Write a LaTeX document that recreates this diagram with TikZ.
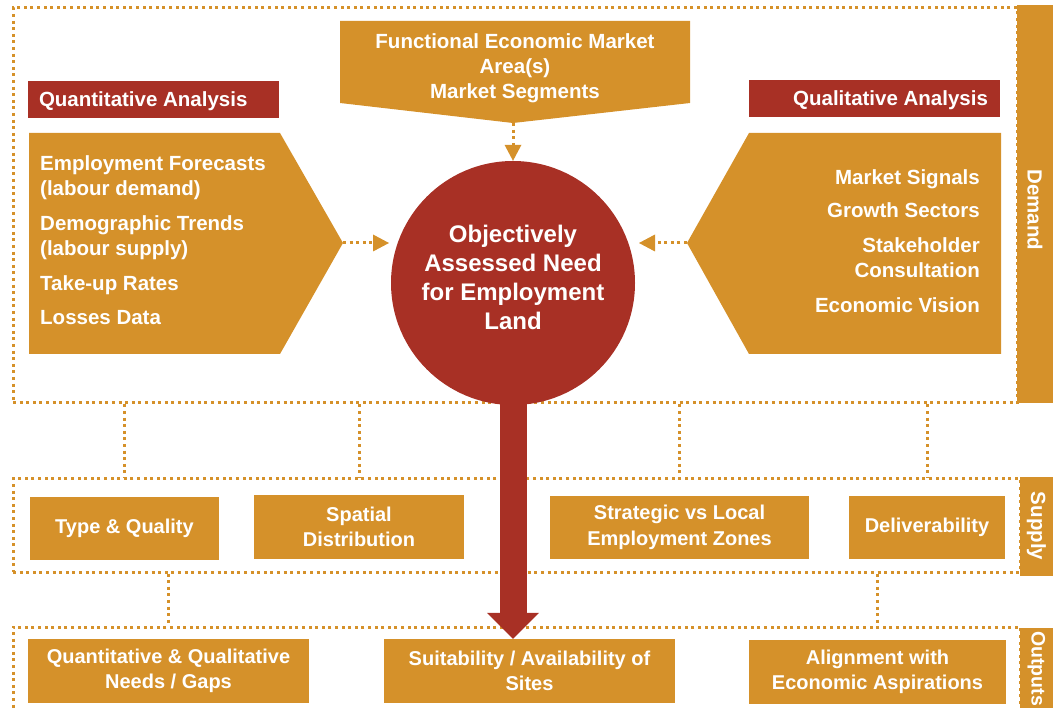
\documentclass[tikz,border=0pt]{standalone}
\usepackage{fontspec}
\setmainfont{Liberation Sans}
\usetikzlibrary{arrows.meta}
\definecolor{org}{RGB}{213,145,42}
\definecolor{rd}{RGB}{168,48,37}
\begin{document}
\begin{tikzpicture}[x=1pt,y=-1pt,
  dots/.style={draw=org, line width=3pt, dash pattern=on 3pt off 3.6pt},
  frame/.style={dots, rectangle, inner sep=0pt},
  bar/.style={fill=org, inner sep=0pt},
  barlabel/.style={text=white, font=\bfseries\fontsize{20.5}{24}\selectfont, rotate=-90, inner sep=0pt},
  obox/.style={fill=org, text=white, inner sep=0pt, align=center, font=\bfseries\fontsize{20}{25.5}\selectfont},
  rlabel/.style={fill=rd, minimum height=37pt, inner sep=0pt},
  rtext/.style={text=white, inner sep=0pt, text depth=0pt, font=\bfseries\fontsize{20.5}{24}\selectfont},
  txt/.style={text=white, font=\bfseries\fontsize{20.5}{25}\selectfont, inner sep=0pt},
  darrow/.style={dots, -{Triangle[width=17pt,length=16pt,line width=0pt]}},
]
\useasboundingbox (0,0) rectangle (1053,708);

% dotted frames
\node[frame, minimum width=1004pt, minimum height=395pt] (demand) at (515,205.5) {};
\node[frame, minimum width=1007pt, minimum height=93pt] (supply) at (516.5,525.5) {};
\node[frame, minimum width=1007pt, minimum height=93pt] (outputs) at (516.5,673.5) {};

% side bars
\node[bar, minimum width=36pt, minimum height=398pt] (dbar) at (1035,204) {};
\node[bar, minimum width=33pt, minimum height=99pt] (sbar) at (1036.5,526.5) {};
\node[bar, minimum width=33pt, minimum height=92pt] (obar) at (1036.5,674) {};
\node[barlabel] (dlab) at (1035,210) {Demand};
\node[barlabel] (slab) at (1036.5,526) {Supply};
\node[barlabel, font=\bfseries\fontsize{19.5}{24}\selectfont] (olab) at (1036.5,668.5) {Outputs};

% supply boxes
\node[obox, minimum width=189pt, minimum height=63pt] (tq) at (124.5,528.5) {Type \& Quality};
\node[obox, minimum width=210pt, minimum height=64pt] (sd) at (359,527) {Spatial\\Distribution};
\node[obox, minimum width=259pt, minimum height=63pt] (sl) at (679.5,527.5) {Strategic vs Local\\Employment Zones};
\node[obox, minimum width=156pt, minimum height=63pt] (dv) at (927,527.5) {Deliverability};

% output boxes
\node[obox, minimum width=281pt, minimum height=64pt] (qq) at (168.5,671) {Quantitative \& Qualitative\\Needs / Gaps};
\node[obox, minimum width=291pt, minimum height=64pt] (sa) at (529.5,671) {Suitability / Availability of\\Sites};
\node[obox, minimum width=257pt, minimum height=64pt] (al) at (877.5,672) {Alignment with\\Economic Aspirations};

% dotted connectors
\draw[dots] (demand.south -| tq) -- (supply.north -| tq);
\draw[dots] (demand.south -| sd) -- (supply.north -| sd);
\draw[dots] (demand.south -| sl) -- (supply.north -| sl);
\draw[dots] (demand.south -| dv) -- (supply.north -| dv);
\draw[dots] (supply.south -| qq) -- (outputs.north -| qq);
\draw[dots] (supply.south -| al) -- (outputs.north -| al);

% pentagons
\fill[org] (29,133) -- (280,133) -- (343,243) coordinate (ltip) -- (280,354) -- (29,354) -- cycle;
\fill[org] (1001,133) -- (749,133) -- (687,243) coordinate (rtip) -- (749,354) -- (1001,354) -- cycle;
\fill[org] (340,21) -- (690,21) -- (690,103) -- (513,123) coordinate (ftip) -- (340,103) -- cycle;

% red labels
\node[rlabel, minimum width=251pt] (quant) at (153.5,99.5) {};
\node[rtext, anchor=west] (quanttext) at ([xshift=11pt]quant.west) {Quantitative Analysis};
\node[rlabel, minimum width=251pt] (qual) at (874.5,98.5) {};
\node[rtext, anchor=east] (qualtext) at ([xshift=-12pt]qual.east) {Qualitative Analysis};

% texts in shapes
\node[txt, align=left, anchor=west] (ltext) at (40,240) {Employment Forecasts\\(labour demand)\\[10pt]Demographic Trends\\(labour supply)\\[10pt]Take-up Rates\\[9pt]Losses Data};
\node[txt, align=right, anchor=east] (rtext) at (980,241) {Market Signals\\[8pt]Growth Sectors\\[10pt]Stakeholder\\Consultation\\[10pt]Economic Vision};
\node[txt, align=center] (ftext) at (515,68) {Functional Economic Market\\Area(s)\\Market Segments};

% central circle and big arrow
\node[circle, fill=rd, minimum size=244pt, inner sep=0pt] (obj) at (513,283) {};
\draw[rd, line width=27pt, -{Triangle[width=52pt,length=26pt,line width=0pt]}] ([yshift=3pt]obj.south) -- (obj.south |- sa.north);
\node[text=white, font=\bfseries\fontsize{24}{29}\selectfont, align=center, inner sep=0pt] (objtext) at (513,277.5) {Objectively\\Assessed Need\\for Employment\\Land};

% dotted arrows
\coordinate (lend) at (389,243);
\coordinate (rend) at (639,243);
\draw[darrow] (ltip) -- (lend);
\draw[darrow] (rtip) -- (rend);
\draw[darrow] (ftip) -- (obj.north);
\end{tikzpicture}
\end{document}
